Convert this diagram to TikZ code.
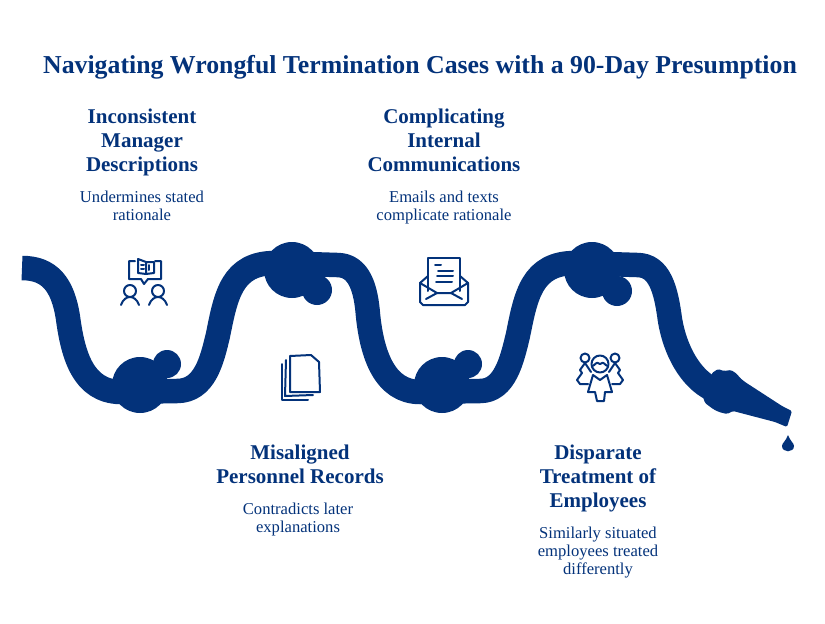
\documentclass[tikz,border=0pt]{standalone}
\usepackage{fontspec}
\setmainfont{Liberation Serif}
\definecolor{navy}{HTML}{03327A}
\usetikzlibrary{calc}
\begin{document}
\begin{tikzpicture}[
 x=1pt,y=-1pt,
 align=center,
 inner sep=0pt,
 text=navy,
 title/.style={font=\fontsize{25.8}{30}\selectfont\bfseries},
 head/.style={font=\fontsize{21}{24}\selectfont\bfseries,anchor=north},
 desc/.style={font=\fontsize{16.6}{18}\selectfont,anchor=north},
 hose/.style={draw=navy,line width=24.5pt,line join=round},
 blob/.style={fill=navy,draw=none},
 icon/.style={draw=navy,line width=2pt,line cap=round,line join=round}
]
\useasboundingbox (0,0) rectangle (825,624);
% title
\node (title-text) [title] at (420,67) {Navigating Wrongful Termination Cases with a 90-Day Presumption};
% texts
\node (manager-head) [head] at (142,109) {Inconsistent\\Manager\\Descriptions};
\node (manager-desc) [desc] at (142,191) {Undermines stated\\rationale};
\node (comms-head) [head] at (444,109) {Complicating\\Internal\\Communications};
\node (comms-desc) [desc] at (444,191) {Emails and texts\\complicate rationale};
\node (records-head) [head] at (300,445) {Misaligned\\Personnel Records};
\node (records-desc) [desc] at (298,503) {Contradicts later\\explanations};
\node (treatment-head) [head] at (598,445) {Disparate\\Treatment of\\Employees};
\node (treatment-desc) [desc] at (598,527) {Similarly situated\\employees treated\\differently};
% hose
\draw [hose] (22,268) .. controls (50,268) and (63,285) .. (68,318) .. controls (73,355) and (83,391) .. (120,392) -- (177,391) .. controls (205,391) and (212,360) .. (218,335) .. controls (226,295) and (232,263) .. (275,263) -- (337,265) .. controls (360,265) and (366,290) .. (368,315) .. controls (372,355) and (385,392) .. (420,392) -- (480,391) .. controls (505,391) and (512,360) .. (518,335) .. controls (526,295) and (532,263) .. (575,263) -- (637,265) .. controls (660,265) and (666,290) .. (670,320) .. controls (675,350) and (690,378) .. (712,389);
% knots
\fill [blob] (140,385) circle (28);
\fill [blob] (167,364) circle (14);
\fill [blob] (292,270) circle (28);
\fill [blob] (317,290) circle (15);
\fill [blob] (442,385) circle (28);
\fill [blob] (468,364) circle (14);
\fill [blob] (592,270) circle (28);
\fill [blob] (617,291) circle (15);
% nozzle
\fill [blob,rounded corners=1.5pt] (712,373) -- (718,369) -- (724,371) -- (731,370) -- (737,374) -- (740,378) -- (745,382) -- (782,406) -- (792,411) -- (787,427) -- (775,422) -- (733,411) -- (727,414) -- (719,412) -- (713,409) -- (705,403) -- (703,397) -- cycle;
\fill [blob] (788,435) .. controls (786,441) and (782,443) .. (782,446) .. controls (782,453) and (794,453) .. (794,446) .. controls (794,443) and (790,441) .. (788,435) -- cycle;
% speech icon
\begin{scope}[icon]
\draw (135,261) -- (129,261) -- (129,279) -- (141,279) -- (144,284) -- (148,279) -- (161,279) -- (161,261) -- (155,261);
\draw (146,262) -- (138,259) -- (138,273) -- (146,274) -- (154,273) -- (154,262) -- (146,262) -- (146,274);
\draw (141,265) -- (144,265) (141,269) -- (144,269) (149,265) -- (149,270);
\draw (130,291) circle (6);
\draw (158,291) circle (6);
\draw (121,305) .. controls (123,299) and (127,297) .. (130,297) .. controls (133,297) and (137,299) .. (139,305);
\draw (149,305) .. controls (151,299) and (155,297) .. (158,297) .. controls (161,297) and (165,299) .. (167,305);
% envelope icon
\draw (428,276) -- (420,283) -- (420,302) -- (423,305) -- (465,305) -- (468,302) -- (468,283) -- (460,276);
\draw (428,291) -- (428,258) -- (460,258) -- (460,291);
\draw (420,283) -- (437,293) -- (451,293) -- (468,283);
\draw (426,299) -- (437,293) (451,293) -- (462,299);
\draw (435,265) -- (441,265) (438,271) -- (453,271) (437,276) -- (453,276) (436,282) -- (452,282);
% papers icon
\draw (290,356) -- (311,355) -- (319,362) -- (320,392) -- (290,392) -- cycle;
\draw (286,360) -- (285,396) -- (313,395);
\draw (282,364) -- (282,400) -- (308,400);
% team icon
\draw (600,364) circle (8.5);
\draw (593,366) .. controls (597,362) and (598,362) .. (600,364) .. controls (602,362) and (603,362) .. (607,366);
\draw (585,358) circle (4.5);
\draw (615,358) circle (4.5);
\draw (585,363) -- (580,370) -- (582,373) -- (577,380) -- (580,384) -- (588,384) (585,363) -- (591,372);
\draw (615,363) -- (620,370) -- (618,373) -- (623,380) -- (620,384) -- (612,384) (615,363) -- (609,372);
\draw (593,375) -- (588,392) -- (595,392) -- (597,401) -- (604,401) -- (605,392) -- (612,392) -- (607,375) -- (600,380) -- cycle;
\end{scope}
\end{tikzpicture}
\end{document}
